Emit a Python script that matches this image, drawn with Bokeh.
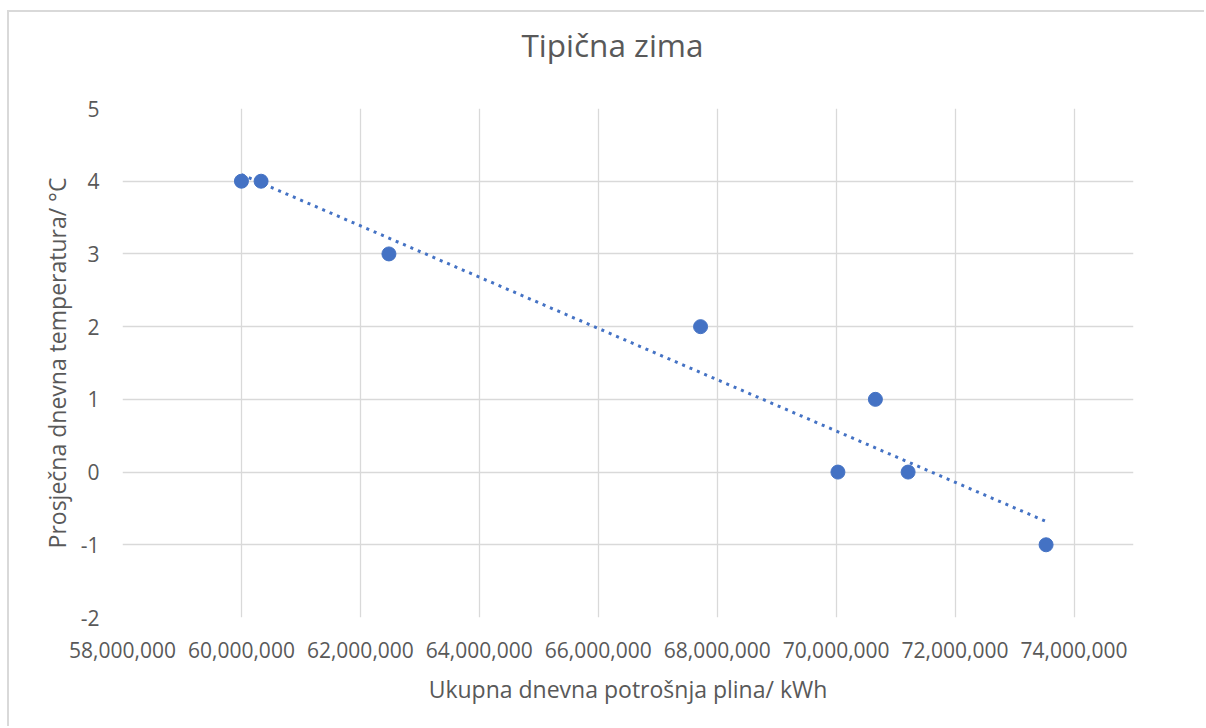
from bokeh.plotting import figure
from bokeh.models import (Range1d, FixedTicker, NumeralTickFormatter,
                          CustomJSTickFormatter, Title)
from bokeh.embed import file_html
from bokeh.resources import INLINE
import numpy as np

# data
potrosnja = [60_000_000, 60_330_000, 62_480_000, 67_720_000,
             70_030_000, 70_660_000, 71_210_000, 73_530_000]
temperatura = [4, 4, 3, 2, 0, 1, 0, -1]
x_ticks = [58_000_000, 60_000_000, 62_000_000, 64_000_000, 66_000_000,
           68_000_000, 70_000_000, 72_000_000, 74_000_000]
y_ticks = [-2, -1, 0, 1, 2, 3, 4, 5]
title_text = "Tipična zima"
x_label = "Ukupna dnevna potrošnja plina/ kWh"
y_label = "Prosječna dnevna temperatura/ °C"

FONT = "Open Sans"
GRAY = "#595959"
BLUE = "#4472C4"

W, H = 1197, 716
p = figure(width=W, height=H, output_backend="svg", toolbar_location=None,
           x_range=Range1d(58_000_000, 75_000_000), y_range=Range1d(-2, 5),
           min_border_left=113, min_border_right=73, min_border_top=96,
           min_border_bottom=111)
p.margin = (10, 0, 0, 7)
p.styles = {"border-top": "2px solid #d9d9d9", "border-left": "2px solid #d9d9d9"}
p.outline_line_color = None
p.background_fill_color = "white"
p.border_fill_color = "white"

# title: a blank second line lifts it away from the plot frame
p.title.text = title_text + "\n\u00a0"
p.title.align = "right"
p.title.offset = 430
p.title.standoff = 0
p.title.text_font = FONT
p.title.text_font_size = "31.5px"
p.title.text_font_style = "normal"
p.title.text_color = GRAY

for ax in (p.xaxis[0], p.yaxis[0]):
    ax.axis_line_color = None
    ax.major_tick_line_color = None
    ax.minor_tick_line_color = None
    ax.major_tick_out = 0
    ax.major_tick_in = 0
    ax.major_label_text_font = FONT
    ax.major_label_text_font_size = "21px"
    ax.major_label_text_color = GRAY
    ax.axis_label_text_font = FONT
    ax.axis_label_text_font_size = "23px"
    ax.axis_label_text_color = GRAY
    ax.axis_label_text_font_style = "normal"

p.xaxis[0].ticker = FixedTicker(ticks=x_ticks)
p.xaxis[0].formatter = NumeralTickFormatter(format="0,0")
p.xaxis[0].major_label_standoff = 24
p.xaxis[0].axis_label = x_label
p.xaxis[0].axis_label_standoff = 12

p.yaxis[0].ticker = FixedTicker(ticks=y_ticks)
p.yaxis[0].formatter = CustomJSTickFormatter(code="return tick.toFixed(0);")
p.yaxis[0].major_label_standoff = 23
p.yaxis[0].axis_label = y_label
p.yaxis[0].axis_label_standoff = 5

p.xgrid[0].ticker = FixedTicker(ticks=x_ticks)
p.ygrid[0].ticker = FixedTicker(ticks=y_ticks)
for g in (p.xgrid[0], p.ygrid[0]):
    g.grid_line_color = "#d9d9d9"
    g.grid_line_width = 1.3

# linear trendline (least squares)
xs = np.array(potrosnja, dtype=float)
ys = np.array(temperatura, dtype=float)
k, n = np.polyfit(xs, ys, 1)
tx = [xs.min(), xs.max()]
ty = [k * v + n for v in tx]
p.line(tx, ty, line_color=BLUE, line_width=3, line_dash="3 5")

p.scatter(potrosnja, temperatura, size=14, color=BLUE, line_color=BLUE)

open("out.html", "w").write(file_html(p, INLINE))
